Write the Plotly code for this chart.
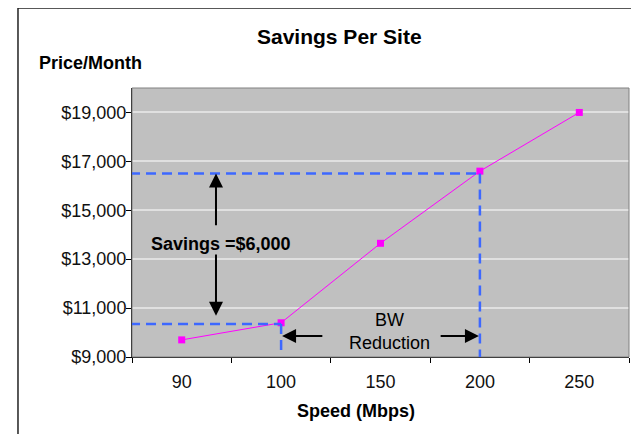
import plotly.graph_objects as go

# ---- data ----
speeds = ["90", "100", "150", "200", "250"]
prices = [9700, 10400, 13650, 16600, 19000]
y_ticks = [9000, 11000, 13000, 15000, 17000, 19000]
y_tick_labels = ["$9,000", "$11,000", "$13,000", "$15,000", "$17,000", "$19,000"]
savings_high = 16500
savings_low = 10350
speed_high = "200"
speed_low = "100"

FONT = "Liberation Sans, Arial, sans-serif"
BLUE = "#3d68ff"

ix_hi = speeds.index(speed_high)
ix_lo = speeds.index(speed_low)

fig = go.Figure()
fig.add_trace(go.Scatter(
    x=speeds, y=prices, mode="lines+markers",
    line=dict(color="#ff00ff", width=1),
    marker=dict(symbol="square", size=7, color="#ff00ff"),
    showlegend=False, hoverinfo="skip",
))

shapes = [
    # outer chart border
    dict(type="rect", xref="paper", yref="paper", x0=-0.2294, x1=1.0125, y0=-0.35, y1=1.2974,
         line=dict(color="#222", width=1.5), layer="above"),
    # plot area border
    dict(type="rect", xref="paper", yref="paper", x0=0, x1=1, y0=0, y1=1,
         line=dict(color="#808080", width=1), layer="above"),
    # dashed guides
    dict(type="line", xref="x", yref="y", x0=-0.52, x1=ix_hi, y0=savings_high, y1=savings_high,
         line=dict(color=BLUE, width=2.5, dash="10px,6px")),
    dict(type="line", xref="x", yref="y", x0=ix_hi, x1=ix_hi, y0=savings_high, y1=9000,
         line=dict(color=BLUE, width=2.5, dash="10px,6px")),
    dict(type="line", xref="x", yref="y", x0=-0.52, x1=ix_lo, y0=savings_low, y1=savings_low,
         line=dict(color=BLUE, width=2.5, dash="10px,6px")),
    dict(type="line", xref="x", yref="y", x0=ix_lo, x1=ix_lo, y0=savings_low, y1=9245,
         line=dict(color=BLUE, width=2.5, dash="10px,6px")),
]

arrow = dict(xref="x", yref="y", axref="x", ayref="y", text="", showarrow=True,
             arrowhead=2, arrowsize=1.4, arrowwidth=2, arrowcolor="black")
annotations = [
    dict(x=0.345, y=savings_high, ax=0.345, ay=14330, **arrow),
    dict(x=0.345, y=10690, ax=0.345, ay=13250, **arrow),
    dict(x=ix_lo + 0.01, y=9860, ax=1.43, ay=9860, **arrow),
    dict(x=ix_hi - 0.01, y=9860, ax=2.59, ay=9860, **arrow),
    dict(x=0.395, y=13620, xref="x", yref="y", text="<b>Savings =$6,000</b>", showarrow=False,
         xanchor="center", yanchor="middle",
         font=dict(family=FONT, size=18, color="black")),
    dict(x=2.09, y=10063, xref="x", yref="y", text="BW<br>Reduction", showarrow=False,
         xanchor="center", yanchor="middle",
         font=dict(family=FONT, size=18, color="black")),
    dict(x=0.4185, y=1.193, xref="paper", yref="paper", text="<b>Savings Per Site</b>",
         showarrow=False, xanchor="center", yanchor="middle",
         font=dict(family=FONT, size=21, color="black")),
    dict(x=-0.0845, y=1.093, xref="paper", yref="paper", text="<b>Price/Month</b>",
         showarrow=False, xanchor="center", yanchor="middle",
         font=dict(family=FONT, size=18, color="black")),
    dict(x=0.4507, y=-0.2007, xref="paper", yref="paper", text="<b>Speed (Mbps)</b>",
         showarrow=False, xanchor="center", yanchor="middle",
         font=dict(family=FONT, size=18, color="black")),
]

fig.update_layout(
    width=631, height=426,
    margin=dict(l=124, r=10, t=80, b=77),
    paper_bgcolor="white", plot_bgcolor="#c0c0c0",
    font=dict(family=FONT, size=18, color="black"),
    shapes=shapes, annotations=annotations,
    xaxis=dict(type="category", categoryorder="array", categoryarray=speeds,
               range=[-0.5, len(speeds) - 0.5], showgrid=False, zeroline=False,
               showline=True, linecolor="black", linewidth=1,
               ticks="outside", tickson="boundaries", ticklen=5, tickcolor="black",
               ticklabelstandoff=8,
               tickfont=dict(family=FONT, size=18, color="#111")),
    yaxis=dict(range=[9000, 20000], tickvals=y_ticks, ticktext=y_tick_labels,
               showgrid=True, gridcolor="#e0e0e0", gridwidth=1.5, zeroline=False,
               showline=True, linecolor="black", linewidth=1,
               ticks="outside", ticklen=5, tickcolor="black",
               ticklabelstandoff=-4,
               tickfont=dict(family=FONT, size=18, color="#111")),
)

fig.write_html("out.html")
